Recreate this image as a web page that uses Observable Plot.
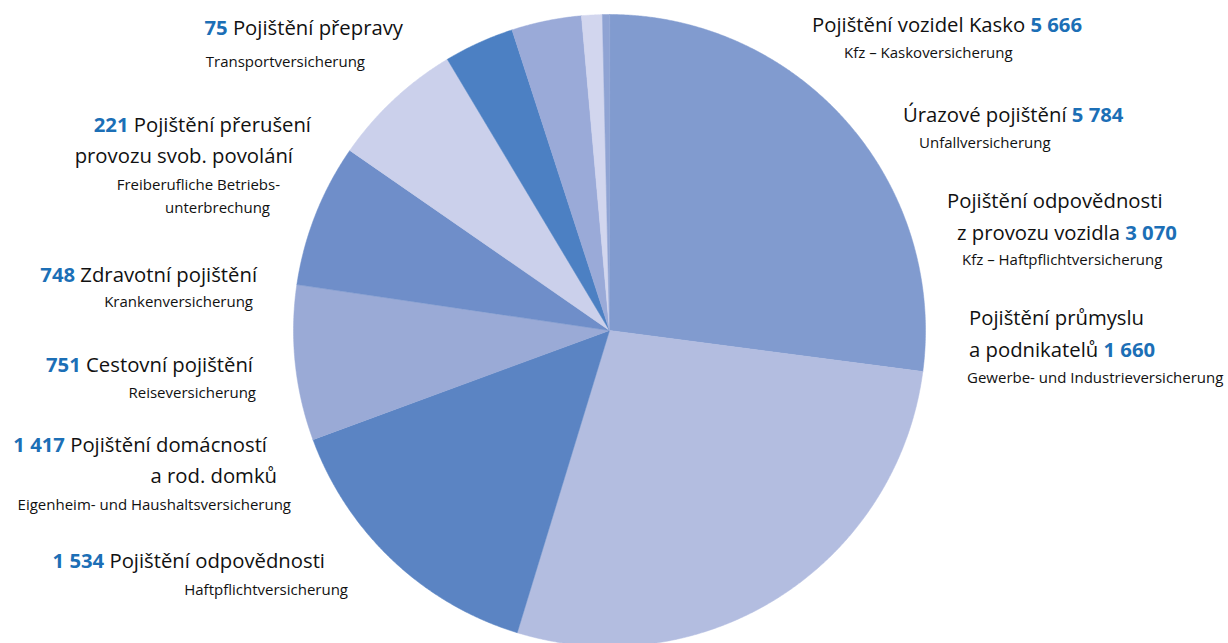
<!DOCTYPE html>
<html>
<head>
<meta charset="utf-8">
<script src="https://cdn.jsdelivr.net/npm/d3@7"></script>
<script src="https://cdn.jsdelivr.net/npm/@observablehq/plot@0.6"></script>
<style>
  html, body { margin: 0; padding: 0; background: #fff; }
  #chart { width: 1228px; height: 643px; }
</style>
</head>
<body>
<div id="chart"></div>
<script>
// ---- data ----
const categories = [
  "Pojištění vozidel Kasko",
  "Úrazové pojištění",
  "Pojištění odpovědnosti z provozu vozidla",
  "Pojištění průmyslu a podnikatelů",
  "Pojištění odpovědnosti",
  "Pojištění domácností a rod. domků",
  "Cestovní pojištění",
  "Zdravotní pojištění",
  "Pojištění přerušení provozu svob. povolání",
  "Pojištění přepravy"
];
const values = [5666, 5784, 3070, 1660, 1534, 1417, 751, 748, 221, 75];
const germanNames = [
  "Kfz – Kaskoversicherung",
  "Unfallversicherung",
  "Kfz – Haftpflichtversicherung",
  "Gewerbe- und Industrieversicherung",
  "Haftpflichtversicherung",
  "Eigenheim- und Haushaltsversicherung",
  "Reiseversicherung",
  "Krankenversicherung",
  "Freiberufliche Betriebs-unterbrechung",
  "Transportversicherung"
];
// how the Czech / German names are broken into lines
const czechLines = [
  ["Pojištění vozidel Kasko"],
  ["Úrazové pojištění"],
  ["Pojištění odpovědnosti", "z provozu vozidla"],
  ["Pojištění průmyslu", "a podnikatelů"],
  ["Pojištění odpovědnosti"],
  ["Pojištění domácností", "a rod. domků"],
  ["Cestovní pojištění"],
  ["Zdravotní pojištění"],
  ["Pojištění přerušení", "provozu svob. povolání"],
  ["Pojištění přepravy"]
];
const germanLines = [
  ["Kfz – Kaskoversicherung"],
  ["Unfallversicherung"],
  ["Kfz – Haftpflichtversicherung"],
  ["Gewerbe- und Industrieversicherung"],
  ["Haftpflichtversicherung"],
  ["Eigenheim- und Haushaltsversicherung"],
  ["Reiseversicherung"],
  ["Krankenversicherung"],
  ["Freiberufliche Betriebs-", "unterbrechung"],
  ["Transportversicherung"]
];

// ---- styles ----
const sliceColors = ["#819bcf", "#b3bde0", "#5b84c3", "#9aaad6", "#6f8ec9",
                     "#cbd0eb", "#4c80c3", "#9aaad8", "#d2d6ee", "#8fa3d3"];
// ---- label layout (pixel positions): side, x of each Czech line, baseline y, german x / y ----
const labelLayout = [
  {side: "R", cx: [812], cy: [32], gx: [844], gy: [58]},
  {side: "R", cx: [903], cy: [122], gx: [919], gy: [148]},
  {side: "R", cx: [947, 957], cy: [208, 240], gx: [962], gy: [265]},
  {side: "R", cx: [969, 969], cy: [325, 357], gx: [967], gy: [383]},
  {side: "L", cx: [325], cy: [568], gx: [348], gy: [595]},
  {side: "L", cx: [267, 277], cy: [452, 483], gx: [291], gy: [510]},
  {side: "L", cx: [253], cy: [372], gx: [256], gy: [398]},
  {side: "L", cx: [257], cy: [282], gx: [253], gy: [307]},
  {side: "L", cx: [311, 293], cy: [132, 163], gx: [280, 270], gy: [190, 213]},
  {side: "L", cx: [403], cy: [35], gx: [365], gy: [67]}
];

const fmt = d3.formatLocale({thousands: " ", grouping: [3], decimal: ","}).format(",d");

// ---- build pie polygons from the values ----
const arcs = d3.pie().sort(null).value(d => d)(values);
const piePoints = [];
arcs.forEach((a, i) => {
  piePoints.push({cat: categories[i], x: 0, y: 0});
  const n = Math.max(2, Math.ceil((a.endAngle - a.startAngle) / 0.005));
  for (let k = 0; k <= n; k++) {
    const t = a.startAngle + (a.endAngle - a.startAngle) * k / n;
    piePoints.push({cat: categories[i], x: Math.sin(t), y: -Math.cos(t)});
  }
});

const cxPix = 609, cyPix = 330, R = 316;
const plot = Plot.plot({
  width: 1228,
  height: 643,
  margin: 0,
  style: {background: "#fff", overflow: "visible"},
  x: {domain: [-1, 1], range: [cxPix - R, cxPix + R], axis: null},
  y: {domain: [-1, 1], range: [cyPix - R, cyPix + R], axis: null},
  color: {domain: categories, range: sliceColors},
  marks: [
    Plot.line(piePoints, {x: "x", y: "y", z: "cat", fill: "cat", stroke: "cat",
      strokeWidth: 0.5, curve: "linear-closed"})
  ]
});
document.getElementById("chart").appendChild(plot);

// ---- labels ----
const svg = d3.select(plot);
const g = svg.append("g").attr("font-family", "'Open Sans', 'Noto Sans', sans-serif");
const blue = "#1c6fb6";
labelLayout.forEach((L, i) => {
  const lines = czechLines[i];
  lines.forEach((line, j) => {
    const t = g.append("text")
      .attr("x", L.cx[j]).attr("y", L.cy[j])
      .attr("font-size", 20.3)
      .attr("fill", "#111")
      .attr("text-anchor", L.side === "R" ? "start" : "end");
    if (L.side === "L" && j === 0) {
      t.append("tspan").attr("fill", blue).attr("font-weight", "bold").text(fmt(values[i]));
      t.append("tspan").text(" " + line);
    } else if (L.side === "R" && j === lines.length - 1) {
      t.append("tspan").text(line + " ");
      t.append("tspan").attr("fill", blue).attr("font-weight", "bold").text(fmt(values[i]));
    } else {
      t.text(line);
    }
  });
  germanLines[i].forEach((line, j) => {
    g.append("text")
      .attr("x", L.gx[j]).attr("y", L.gy[j])
      .attr("font-size", 15)
      .attr("fill", "#111")
      .attr("text-anchor", L.side === "R" ? "start" : "end")
      .text(line);
  });
});
</script>
</body>
</html>
